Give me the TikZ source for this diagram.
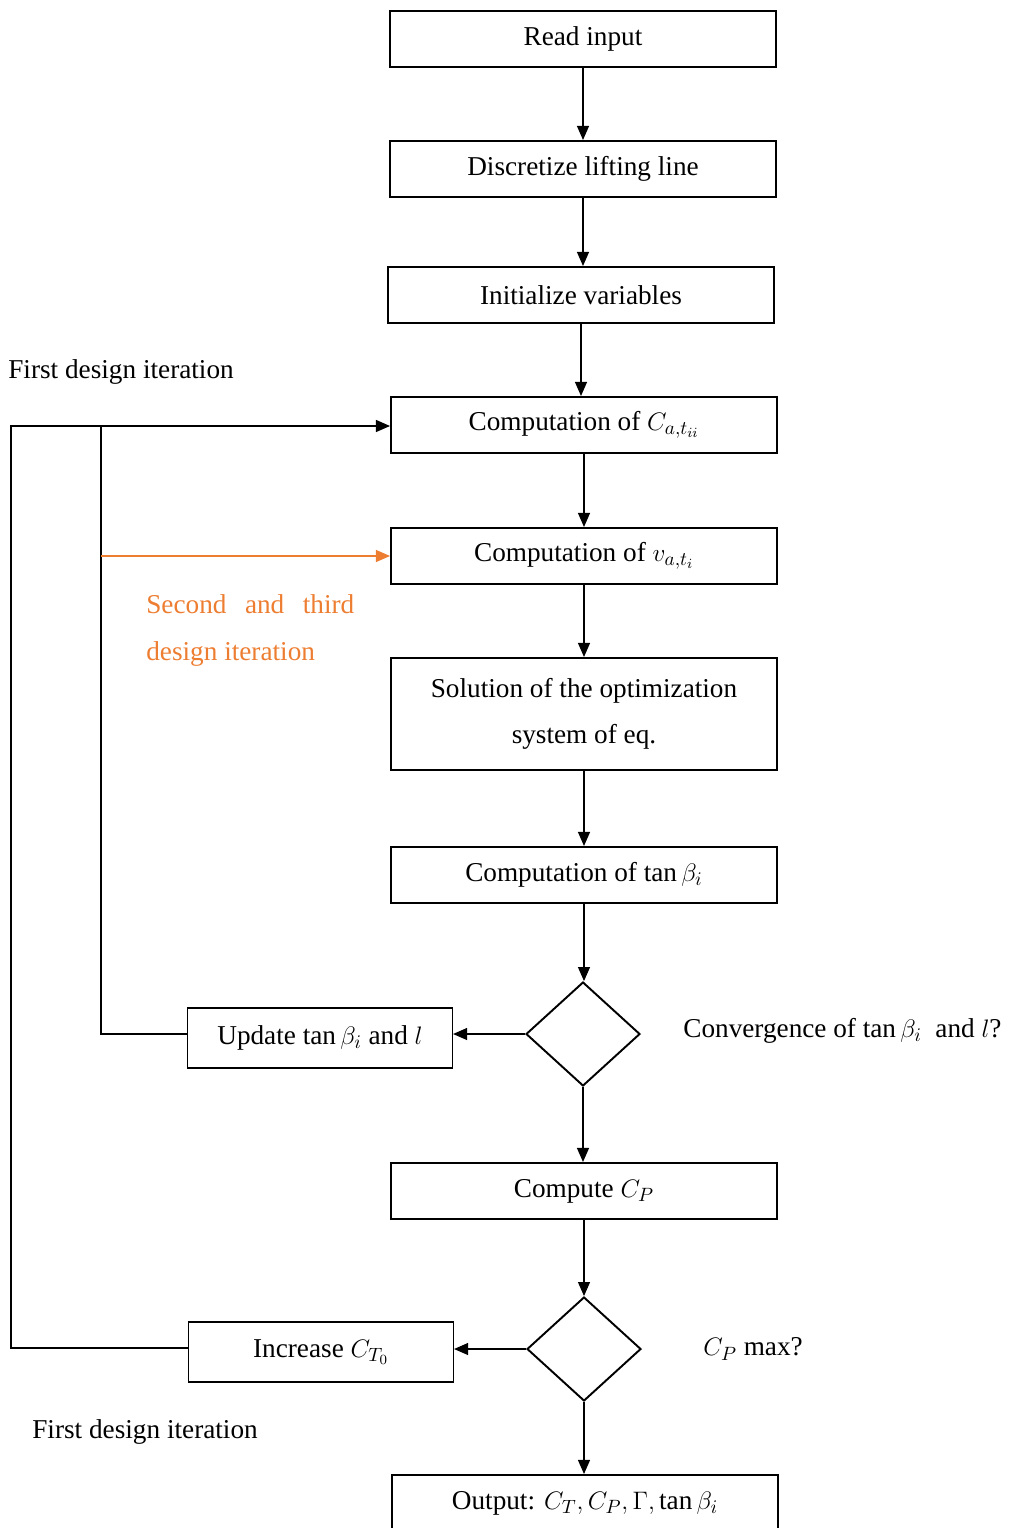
\documentclass[tikz,border=0pt]{standalone}
\usepackage{fontspec}
\setmainfont{Liberation Serif}
\usetikzlibrary{arrows.meta,positioning,shapes.geometric}
\definecolor{iterorange}{RGB}{237,125,49}
\tikzset{
  stepbox/.style={draw=black,line width=1.2pt,minimum width=7.72cm,minimum height=1.12cm,align=center,inner sep=0pt},
  sidebox/.style={draw=black,line width=0.7pt,minimum width=5.3cm,minimum height=1.2cm,align=center,inner sep=0pt},
  decide/.style={diamond,draw=black,line width=1.1pt,minimum width=2.28cm,minimum height=2.08cm,inner sep=0pt},
  arr/.style={-{Triangle[length=2.8mm,width=2.4mm]},draw=black,line width=0.6pt},
  loopline/.style={draw=black,line width=0.6pt},
  orangearr/.style={arr,draw=iterorange,fill=iterorange},
  note/.style={anchor=west,inner sep=0pt}
}

\begin{document}
\begin{tikzpicture}[x=0.02cm,y=-0.02cm,font=\fontsize{15.5}{26}\selectfont]
  \useasboundingbox (0,0) rectangle (1012,1528);
  % main column
  \node[stepbox] (read) at (583,39) {Read input};
  \node[stepbox] (disc) at (583,169) {Discretize lifting line};
  \node[stepbox] (init) at (581,295) {Initialize variables};
  \node[stepbox] (compC) at (584,425) {Computation of $C_{a,t_{ii}}$};
  \node[stepbox] (compV) at (584,556) {Computation of $v_{a,t_i}$};
  \node[stepbox,minimum height=2.24cm] (solve) at (584,714) {Solution of the optimization\\system of eq.};
  \node[stepbox] (tanb) at (584,875) {Computation of $\tan\beta_i$};
  \node[decide] (conv) at (583,1034) {};
  \node[sidebox] (update) at (320,1038) {Update $\tan\beta_i$ and $l$};
  \node[stepbox] (cp) at (584,1191) {Compute $C_P$};
  \node[decide] (cpmax) at (584,1349) {};
  \node[sidebox] (incr) at (321,1352) {Increase $C_{T_0}$};
  \node[stepbox] (out) at (585,1503) {Output: $C_T, C_P, \Gamma, \tan\beta_i$};
  % labels
  \node[note] (first1) at (8,372) {First design iteration};
  \node[note] (first2) at (32,1432) {First design iteration};
  \node[note,text=iterorange,text width=4.16cm,align=justify,anchor=north west,font=\fontsize{15.5}{27}\selectfont] (second) at (146,594) {Second and third design iteration};
  \node[note] (convq) at (683,1031) {Convergence of $\tan\beta_i$\ \ and $l$?};
  \node[note] (cpq) at (703,1349) {$C_P$ max?};
  % arrows
  \draw[arr] (read) -- (read |- disc.north);
  \draw[arr] (disc) -- (disc |- init.north);
  \draw[arr] (init) -- (init |- compC.north);
  \draw[arr] (compC) -- (compC |- compV.north);
  \draw[arr] (compV) -- (compV |- solve.north);
  \draw[arr] (solve) -- (solve |- tanb.north);
  \draw[arr] (tanb) -- (tanb |- conv.north);
  \draw[arr] (conv) -- (conv |- cp.north);
  \draw[arr] (cp) -- (cp |- cpmax.north);
  \draw[arr] (cpmax) -- (cpmax |- out.north);
  \draw[arr] (conv.west) -- (conv.west -| update.east);
  \draw[arr] (cpmax.west) -- (cpmax.west -| incr.east);
  % loops back
  \coordinate (outerleft) at (11,1348);
  \coordinate (innerleft) at (101,426);
  \draw[arr] (incr.west |- outerleft) -- (outerleft) |- (compC.west |- innerleft);
  \draw[loopline] (update.west |- conv.west) -| (innerleft);
  \draw[orangearr] (innerleft |- compV.west) -- (compV.west);
\end{tikzpicture}
\end{document}
